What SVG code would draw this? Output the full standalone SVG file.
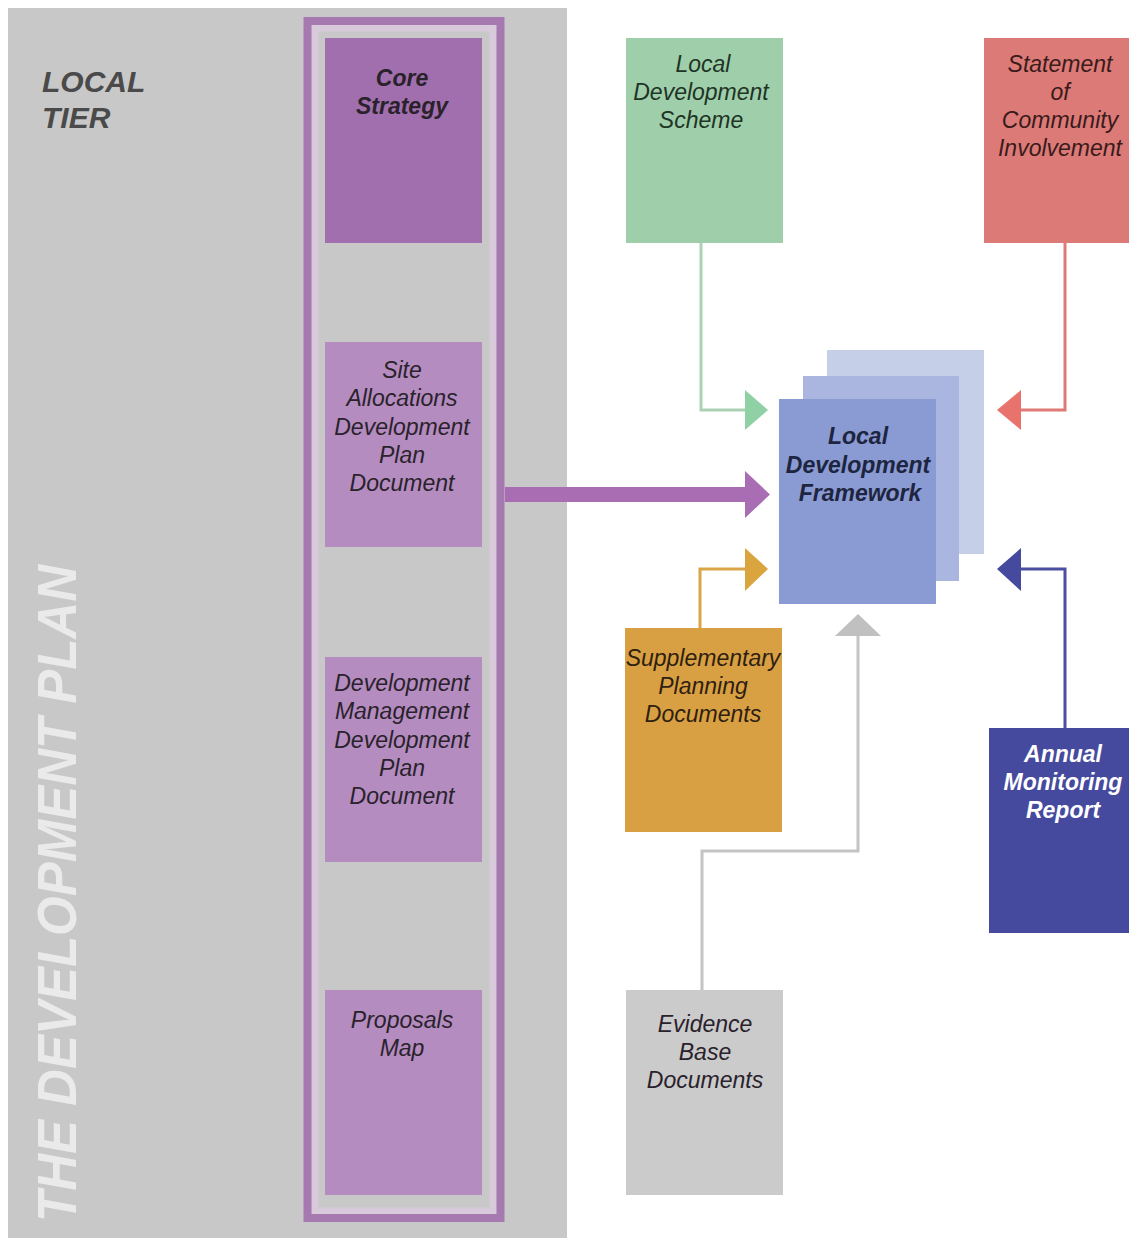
<svg xmlns="http://www.w3.org/2000/svg" width="1129" height="1238" viewBox="0 0 1129 1238">
<style>
text{font-family:"Liberation Sans",Arial,sans-serif;font-style:italic;font-size:23px;text-anchor:middle;fill:#2a222b}
.b{font-weight:bold}
.conn{fill:none;stroke-width:3}
</style>
<rect width="1129" height="1238" fill="#ffffff"/>
<g id="panel">
<rect x="8" y="8" width="559" height="1230" fill="#c8c8c8"/>
<text class="b" x="42" y="92" style="text-anchor:start;font-size:30px;fill:#4a4a4a">LOCAL</text>
<text class="b" x="42" y="128" style="text-anchor:start;font-size:30px;fill:#4a4a4a">TIER</text>
<text class="b" transform="translate(76,1222) rotate(-90)" x="0" y="0" textLength="657" lengthAdjust="spacingAndGlyphs" style="text-anchor:start;font-size:55px;fill:#eaeaea">THE DEVELOPMENT PLAN</text>
</g>
<g id="frame">
<rect x="315" y="28" width="178" height="1183" fill="none" stroke="#d8cadb" stroke-width="7"/>
<rect x="307.5" y="21" width="193" height="1197" fill="none" stroke="#a67ab0" stroke-width="8"/>
</g>
<g id="core-strategy">
<rect x="325" y="38" width="157" height="205" fill="#a16fad"/>
<text class="b" x="402" y="86">Core</text>
<text class="b" x="402" y="114">Strategy</text>
</g>
<g id="site-allocations">
<rect x="325" y="342" width="157" height="205" fill="#b48cc0"/>
<text x="402" y="378">Site</text>
<text x="402" y="406">Allocations</text>
<text x="402" y="435">Development</text>
<text x="402" y="463">Plan</text>
<text x="402" y="491">Document</text>
</g>
<g id="dm-dpd">
<rect x="325" y="657" width="157" height="205" fill="#b48cc0"/>
<text x="402" y="691">Development</text>
<text x="402" y="719">Management</text>
<text x="402" y="748">Development</text>
<text x="402" y="776">Plan</text>
<text x="402" y="804">Document</text>
</g>
<g id="proposals-map">
<rect x="325" y="990" width="157" height="205" fill="#b48cc0"/>
<text x="402" y="1028">Proposals</text>
<text x="402" y="1056">Map</text>
</g>
<g id="connectors">
<rect x="505" y="487" width="242" height="15" fill="#a96db3"/>
<polygon points="745,471 770,494.5 745,518" fill="#a96db3"/>
<polyline class="conn" points="701,243 701,410 746,410" stroke="#acd2b6"/>
<polygon points="745,390 768,410 745,430" fill="#8fd0a5"/>
<polyline class="conn" points="1065,243 1065,410 1020,410" stroke="#e07a76"/>
<polygon points="1021,390 997,410 1021,430" fill="#e8736c"/>
<polyline class="conn" points="700,628 700,569 746,569" stroke="#d9a548"/>
<polygon points="745,548 768,569 745,591" fill="#daa53e"/>
<polyline class="conn" points="1065,728 1065,569 1020,569" stroke="#4a4fa0"/>
<polygon points="1021,548 997,569 1021,591" fill="#454a9e"/>
<polyline class="conn" points="702,990 702,851 858,851 858,634" stroke="#c4c4c4"/>
<polygon points="835,636 858,614 881,636" fill="#c0c0c0"/>
</g>
<g id="ldf">
<rect x="827" y="350" width="157" height="204" fill="#c5cfe8"/>
<rect x="803" y="376" width="156" height="205" fill="#aab6e0"/>
<rect x="779" y="399" width="157" height="205" fill="#8a9bd3"/>
<text class="b" x="858" y="444" style="fill:#1e2540">Local</text>
<text class="b" x="858" y="473" style="fill:#1e2540">Development</text>
<text class="b" x="860" y="501" style="fill:#1e2540">Framework</text>
</g>
<g id="lds">
<rect x="626" y="38" width="157" height="205" fill="#9ecfaa"/>
<text x="703" y="72" style="fill:#1f3326">Local</text>
<text x="701" y="100" style="fill:#1f3326">Development</text>
<text x="701" y="128" style="fill:#1f3326">Scheme</text>
</g>
<g id="sci">
<rect x="984" y="38" width="145" height="205" fill="#dc7a78"/>
<text x="1060" y="72" style="fill:#3a1a1a">Statement</text>
<text x="1060" y="100" style="fill:#3a1a1a">of</text>
<text x="1060" y="128" style="fill:#3a1a1a">Community</text>
<text x="1060" y="156" style="fill:#3a1a1a">Involvement</text>
</g>
<g id="spd">
<rect x="625" y="628" width="157" height="204" fill="#d9a043"/>
<text x="703" y="666" style="fill:#2e2010">Supplementary</text>
<text x="703" y="694" style="fill:#2e2010">Planning</text>
<text x="703" y="722" style="fill:#2e2010">Documents</text>
</g>
<g id="amr">
<rect x="989" y="728" width="140" height="205" fill="#454a9e"/>
<text class="b" x="1063" y="762" style="fill:#ffffff">Annual</text>
<text class="b" x="1063" y="790" style="fill:#ffffff">Monitoring</text>
<text class="b" x="1063" y="818" style="fill:#ffffff">Report</text>
</g>
<g id="evidence">
<rect x="626" y="990" width="157" height="205" fill="#cbcbcb"/>
<text x="705" y="1032">Evidence</text>
<text x="705" y="1060">Base</text>
<text x="705" y="1088">Documents</text>
</g>
</svg>
